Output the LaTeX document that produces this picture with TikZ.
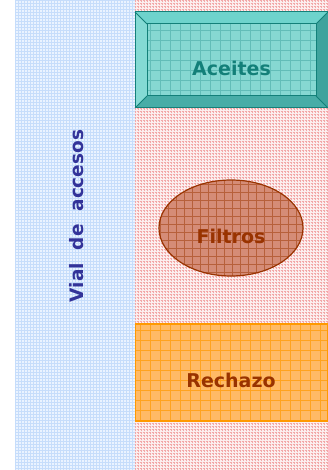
\documentclass[tikz,border=0pt]{standalone}
\usepackage{fontspec}
\setmainfont{DejaVu Sans}
\usetikzlibrary{shapes.geometric}
\definecolor{bluebg}{HTML}{EAF3FF}
\definecolor{bluegrid}{HTML}{C6DDFB}
\definecolor{pinkbg}{HTML}{FCEEEE}
\definecolor{pinkgrid}{HTML}{F2A8A8}
\definecolor{tealdark}{HTML}{138079}
\definecolor{tealfill}{HTML}{86D8D2}
\definecolor{teallight}{HTML}{6ED3CC}
\definecolor{tealshade}{HTML}{3FA39D}
\definecolor{rust}{HTML}{993300}
\definecolor{ellfill}{HTML}{D58C77}
\definecolor{orangefill}{HTML}{FFBA66}
\definecolor{orangeline}{HTML}{FF9900}
\definecolor{navy}{HTML}{333399}
\tikzset{
  lbl/.style={font=\bfseries\fontsize{19}{21}\selectfont},
}
\begin{document}
\begin{tikzpicture}[x=1pt,y=-1pt]
\useasboundingbox (0,0) rectangle (328,470);
% backgrounds
\fill[bluebg] (15,0) rectangle (135,470);
\draw[bluegrid,line width=0.35pt,xstep=3pt,ystep=3pt] (15,470) grid (135,0);
\fill[pinkbg] (135,0) rectangle (328,470);
\draw[pinkgrid,line width=0.35pt,dash pattern=on 0.8pt off 0.7pt,xstep=3pt,ystep=3pt] (135,470) grid (328,0);
% Aceites bevel box
\fill[teallight] (135,12) -- (328,12) -- (316,24) -- (147,24) -- cycle;
\fill[teallight!85!white] (135,12) -- (147,24) -- (147,96) -- (135,108) -- cycle;
\fill[tealshade] (328,12) -- (316,24) -- (316,96) -- (328,108) -- cycle;
\fill[tealshade!80!teallight] (135,108) -- (147,96) -- (316,96) -- (328,108) -- cycle;
\fill[tealfill] (147,24) rectangle (316,96);
\begin{scope}
\clip (147,24) rectangle (316,96);
\draw[tealshade!50!tealfill,line width=0.5pt,xstep=10pt,ystep=10pt] (140,100) grid (320,20);
\end{scope}
\draw[tealdark,line width=1pt] (135,12) rectangle (328,108);
\draw[tealdark,line width=1pt] (147,24) rectangle (316,96);
\draw[tealdark,line width=0.8pt] (135,12) -- (147,24) (328,12) -- (316,24) (135,108) -- (147,96) (328,108) -- (316,96);
\node[lbl,text=tealdark] (aceites) at (231.5,68) {Aceites};
% Filtros ellipse
\fill[ellfill] (231,228) ellipse [x radius=72, y radius=48];
\begin{scope}
\clip (231,228) ellipse [x radius=72, y radius=48];
\draw[rust!50!ellfill,line width=0.5pt,xstep=8pt,ystep=8pt] (150,280) grid (310,175);
\end{scope}
\draw[rust,line width=1.2pt] (231,228) ellipse [x radius=72, y radius=48];
\node[lbl,text=rust] (filtros) at (231,236) {Filtros};
% Rechazo box
\fill[orangefill] (135,324) rectangle (328,421);
\begin{scope}
\clip (135,324) rectangle (328,421);
\draw[orangeline!70!orangefill,line width=0.5pt,xstep=10pt,ystep=10pt] (130,425) grid (330,320);
\end{scope}
\draw[orangeline,line width=1.2pt] (135.6,324) rectangle (327.4,421);
\node[lbl,text=rust] (rechazo) at (231,380) {Rechazo};
% vertical label
\node[text=navy,rotate=90,font=\bfseries\fontsize{18.5}{20}\selectfont] (vial) at (77,216) {Vial\ \ de\ \ accesos};
\end{tikzpicture}
\end{document}
